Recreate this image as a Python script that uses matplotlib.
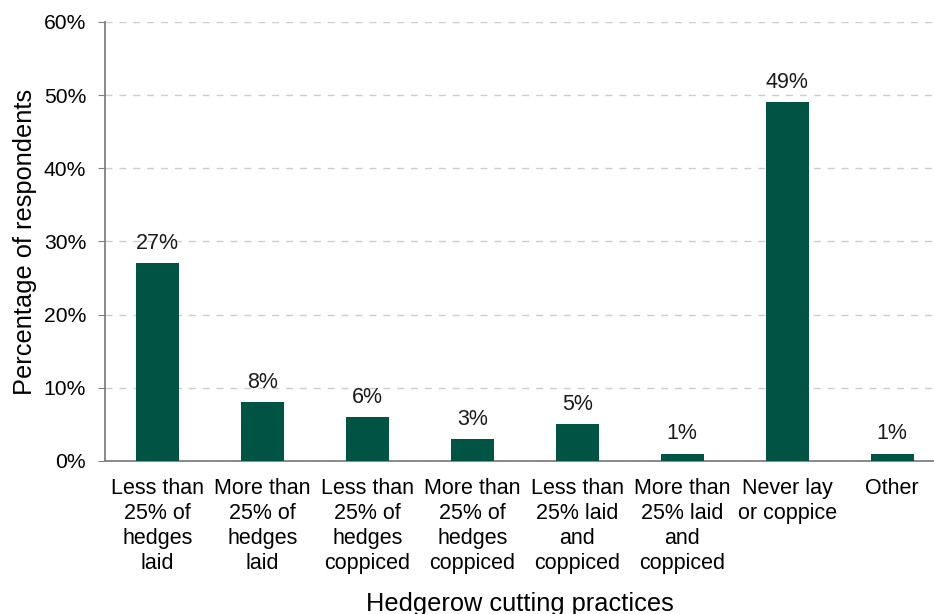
import matplotlib.pyplot as plt
from matplotlib.ticker import PercentFormatter

plt.rcParams['font.family'] = ['Liberation Sans', 'DejaVu Sans']

categories = ['Less than\n25% of\nhedges\nlaid', 'More than\n25% of\nhedges\nlaid',
              'Less than\n25% of\nhedges\ncoppiced', 'More than\n25% of\nhedges\ncoppiced',
              'Less than\n25% laid\nand\ncoppiced', 'More than\n25% laid\nand\ncoppiced',
              'Never lay\nor coppice', 'Other']
values = [27, 8, 6, 3, 5, 1, 49, 1]

fig = plt.figure(figsize=(9.34, 6.14), dpi=100)
ax = fig.add_axes([0.1124, 0.2492, 0.8876, 0.715])

x = list(range(len(values)))
ax.bar(x, values, width=0.41, color='#005444', zorder=3)
for xi, v in zip(x, values):
    ax.text(xi, v + 1.3, f'{v}%', ha='center', va='bottom', fontsize=15.5, color='#1a1a1a')

ax.set_xlim(-0.5, 7.4)
ax.set_ylim(0, 60)
ax.set_yticks(range(0, 61, 10))
ax.yaxis.set_major_formatter(PercentFormatter(decimals=0))
ax.set_xticks(x)
ax.set_xticklabels(categories, fontsize=15.5, linespacing=1.25)
ax.tick_params(axis='x', length=0, pad=12)
ax.tick_params(axis='y', labelsize=15.2, length=5, color='#808080', pad=8.5)

ax.grid(axis='y', linestyle=(0, (5, 5)), color='#cccccc', linewidth=1, zorder=0)
for s in ['top', 'right']:
    ax.spines[s].set_visible(False)
for s in ['left', 'bottom']:
    ax.spines[s].set_color('#808080')
    ax.spines[s].set_linewidth(1.3)

ax.set_ylabel('Percentage of respondents', fontsize=18.3, labelpad=5)
ax.set_xlabel('Hedgerow cutting practices', fontsize=18.3, labelpad=13)

fig.savefig('out.png', dpi=100)
